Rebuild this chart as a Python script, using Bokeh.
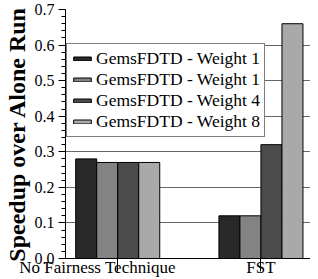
from bokeh.plotting import figure
from bokeh.models import (Range1d, FixedTicker, CustomJSTickFormatter,
                          PrintfTickFormatter, Legend, LegendItem, ColumnDataSource)
from bokeh.transform import dodge
from bokeh.embed import file_html
from bokeh.resources import INLINE

# ---- data ----
categories = ["No Fairness Technique", "FST"]
series_names = ["GemsFDTD - Weight 1", "GemsFDTD - Weight 1",
                "GemsFDTD - Weight 4", "GemsFDTD - Weight 8"]
w1a = [0.28, 0.12]
w1b = [0.27, 0.12]
w4 = [0.27, 0.32]
w8 = [0.27, 0.66]
y_ticks = [0.0, 0.1, 0.2, 0.3, 0.4, 0.5, 0.6, 0.7]

# ---- style / layout ----
colors = ["#282828", "#838383", "#4b4b4b", "#a9a9a9"]
group_x = [1.0, 2.0]
label_shift = [-0.141, 0.0]
bar_w = 0.1467
offsets = [-1.5 * bar_w, -0.5 * bar_w, 0.5 * bar_w, 1.5 * bar_w]
FONT = "'Liberation Serif', 'Times New Roman', serif"

source = ColumnDataSource(dict(x=group_x, s0=w1a, s1=w1b, s2=w4, s3=w8))

p = figure(width=310, height=279, x_range=Range1d(0.6354, 2.346), y_range=Range1d(0, 0.7),
           output_backend="svg", toolbar_location=None,
           min_border_left=58, min_border_right=0, min_border_top=9, min_border_bottom=0)
p.outline_line_color = None
p.background_fill_color = "white"
p.border_fill_color = "white"

renderers = []
for i, col in enumerate(["s0", "s1", "s2", "s3"]):
    r = p.vbar(x=dodge("x", offsets[i], range=p.x_range), top=col, bottom=0, width=bar_w,
               source=source, fill_color=colors[i], line_color="black", line_width=1)
    renderers.append(r)

# x axis
label_x = [g + s for g, s in zip(group_x, label_shift)]
xa = p.xaxis[0]
xa.ticker = FixedTicker(ticks=label_x, minor_ticks=group_x)
xa.formatter = CustomJSTickFormatter(args=dict(labels=categories), code="return labels[index];")
xa.major_tick_line_color = None
xa.major_tick_out = 0
xa.major_tick_in = 0
xa.minor_tick_line_color = "black"
xa.minor_tick_line_width = 1
xa.minor_tick_out = 13
xa.minor_tick_in = 0
xa.major_label_standoff = -14
xa.major_label_text_font = FONT
xa.major_label_text_font_size = "17px"
xa.major_label_text_color = "black"
xa.axis_line_color = "black"
p.xgrid.visible = False

# y axis
ya = p.yaxis[0]
ya.ticker = FixedTicker(ticks=y_ticks,
                        minor_ticks=[round(t / 50, 2) for t in range(0, 36)])
ya.formatter = PrintfTickFormatter(format="%.1f")
ya.major_tick_out = 7
ya.major_tick_in = 0
ya.minor_tick_out = 4
ya.minor_tick_in = 0
ya.major_tick_line_color = "black"
ya.minor_tick_line_color = "black"
ya.axis_line_color = "black"
ya.major_label_standoff = 4
ya.major_label_text_font = FONT
ya.major_label_text_font_size = "16px"
ya.major_label_text_color = "black"
ya.axis_label = "Speedup over Alone Run"
ya.axis_label_text_font = FONT
ya.axis_label_text_font_style = "bold"
ya.axis_label_text_font_size = "24px"
ya.axis_label_text_color = "black"
ya.axis_label_standoff = 2
p.ygrid.ticker = FixedTicker(ticks=y_ticks)
p.ygrid.grid_line_color = "#666666"
p.ygrid.grid_line_width = 1

legend = Legend(items=[LegendItem(label=n, renderers=[r]) for n, r in zip(series_names, renderers)],
                location=(1, 121))
legend.border_line_color = "black"
legend.border_line_width = 1
legend.background_fill_color = "white"
legend.background_fill_alpha = 1
legend.label_text_font = FONT
legend.label_text_font_size = "17.5px"
legend.label_text_color = "black"
legend.glyph_width = 22
legend.glyph_height = 5
legend.label_standoff = 3
legend.padding = 4
legend.spacing = 0
legend.label_height = 20
legend.margin = 0
p.add_layout(legend)

open("out.html", "w").write(file_html(p, INLINE))
